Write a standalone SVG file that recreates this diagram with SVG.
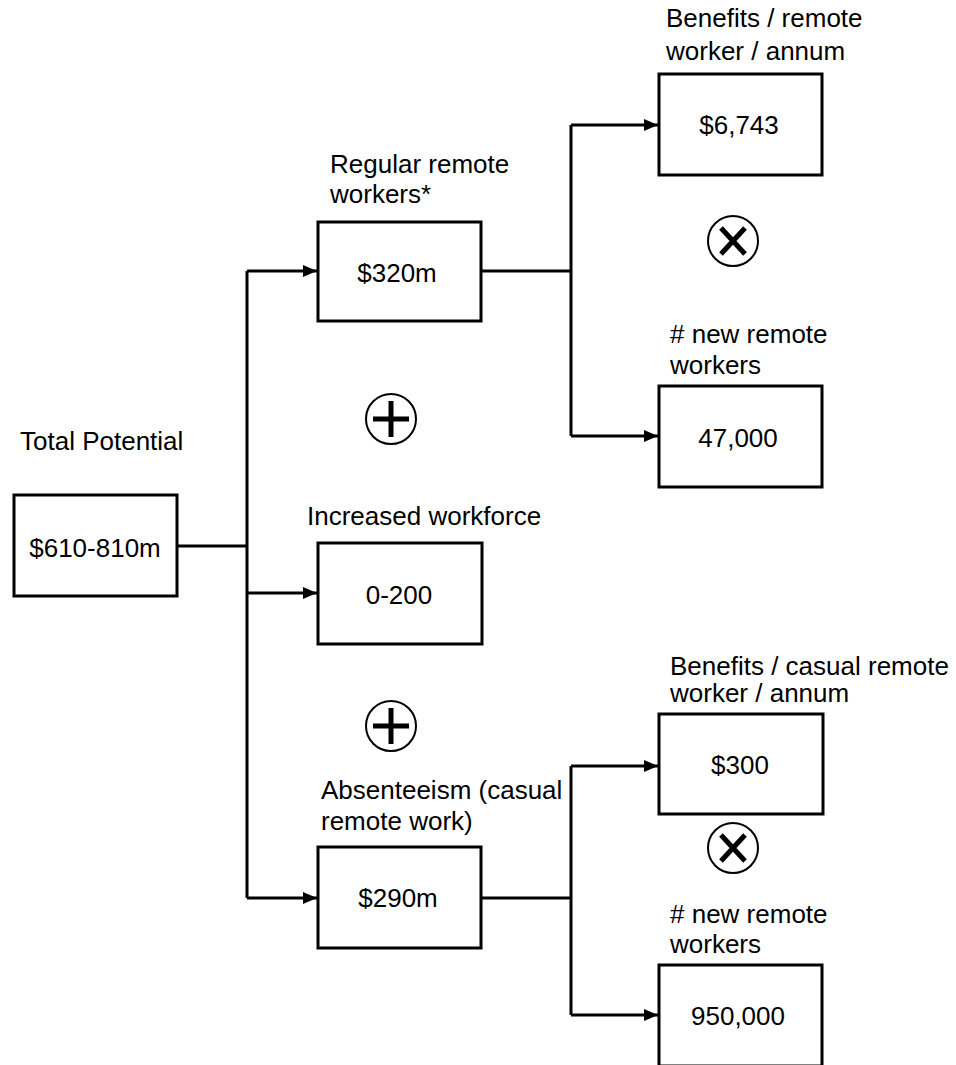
<svg xmlns="http://www.w3.org/2000/svg" width="956" height="1065" viewBox="0 0 956 1065">
<defs>
<style>
text{font-family:"Liberation Sans",Arial,sans-serif;font-size:26px;fill:#000}
.v{text-anchor:middle}
.box{fill:#fff;stroke:#000;stroke-width:3}
.conn{fill:none;stroke:#000;stroke-width:3}
.sym{fill:#fff;stroke:#000;stroke-width:2}
.arm{stroke:#000;stroke-width:5;fill:none}
</style>
<marker id="arr" markerWidth="14" markerHeight="12" refX="14" refY="6" orient="auto" markerUnits="userSpaceOnUse">
<path d="M0,0 L14,6 L0,12 Z" fill="#000"/>
</marker>
</defs>
<rect width="956" height="1065" fill="#fff"/>
<g id="connectors">
<path class="conn" d="M177,546 H247"/>
<path class="conn" d="M247,271 V898"/>
<path class="conn" d="M247,271 H317" marker-end="url(#arr)"/>
<path class="conn" d="M247,593 H317" marker-end="url(#arr)"/>
<path class="conn" d="M247,898 H317" marker-end="url(#arr)"/>
<path class="conn" d="M481,271 H571"/>
<path class="conn" d="M571,125 V436"/>
<path class="conn" d="M571,125 H658" marker-end="url(#arr)"/>
<path class="conn" d="M571,436 H658" marker-end="url(#arr)"/>
<path class="conn" d="M481,898 H571"/>
<path class="conn" d="M571,766 V1015"/>
<path class="conn" d="M571,766 H658" marker-end="url(#arr)"/>
<path class="conn" d="M571,1015 H658" marker-end="url(#arr)"/>
</g>
<g id="total">
<text x="20" y="450">Total Potential</text>
<rect class="box" x="14" y="495" width="163" height="101"/>
<text class="v" x="95" y="557">$610-810m</text>
</g>
<g id="regular">
<text x="330" y="173">Regular remote</text>
<text x="330" y="203">workers*</text>
<rect class="box" x="318" y="222" width="163" height="99"/>
<text class="v" x="397" y="282">$320m</text>
</g>
<g id="plus1">
<circle class="sym" cx="391" cy="419" r="25"/>
<path class="arm" d="M373,419 H409 M391,401 V437"/>
</g>
<g id="increased">
<text x="307" y="525">Increased workforce</text>
<rect class="box" x="318" y="543" width="164" height="101"/>
<text class="v" x="399" y="604">0-200</text>
</g>
<g id="plus2">
<circle class="sym" cx="391" cy="726" r="25"/>
<path class="arm" d="M373,726 H409 M391,708 V744"/>
</g>
<g id="absenteeism">
<text x="321" y="799">Absenteeism (casual</text>
<text x="321" y="830">remote work)</text>
<rect class="box" x="318" y="847" width="163" height="101"/>
<text class="v" x="398" y="907">$290m</text>
</g>
<g id="benefits1">
<text x="666" y="27">Benefits / remote</text>
<text x="666" y="60">worker / annum</text>
<rect class="box" x="659" y="74" width="163" height="101"/>
<text class="v" x="739" y="134">$6,743</text>
</g>
<g id="times1">
<circle class="sym" cx="733" cy="241" r="25"/>
<path class="arm" d="M721,228 L745,254 M745,228 L721,254"/>
</g>
<g id="new1">
<text x="670" y="343"># new remote</text>
<text x="670" y="374">workers</text>
<rect class="box" x="659" y="386" width="163" height="101"/>
<text class="v" x="738" y="447">47,000</text>
</g>
<g id="benefits2">
<text x="670" y="675">Benefits / casual remote</text>
<text x="670" y="702">worker / annum</text>
<rect class="box" x="659" y="714" width="164" height="100"/>
<text class="v" x="740" y="774">$300</text>
</g>
<g id="times2">
<circle class="sym" cx="733" cy="848" r="25"/>
<path class="arm" d="M721,835 L745,861 M745,835 L721,861"/>
</g>
<g id="new2">
<text x="670" y="923"># new remote</text>
<text x="670" y="953">workers</text>
<rect class="box" x="659" y="965" width="163" height="101"/>
<text class="v" x="738" y="1025">950,000</text>
</g>
</svg>
